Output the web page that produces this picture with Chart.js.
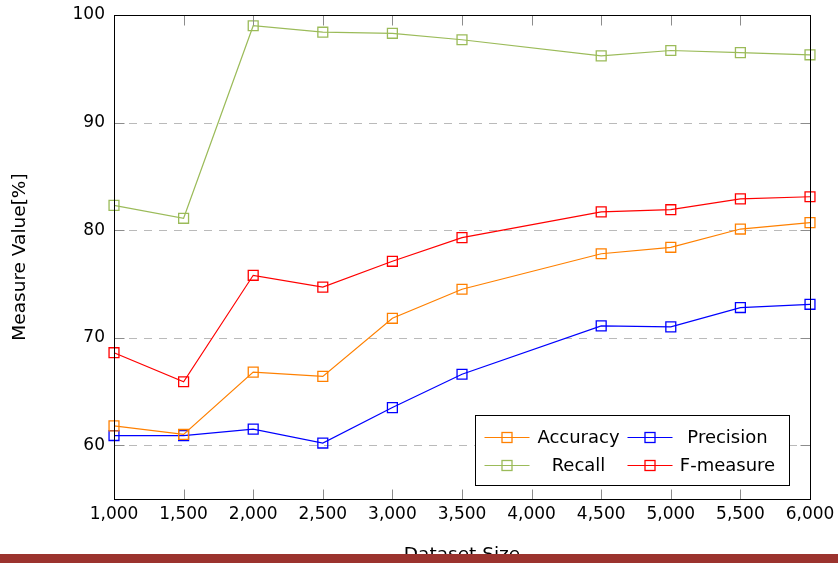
<!DOCTYPE html>
<html>
<head>
<meta charset="utf-8">
<script src="https://cdn.jsdelivr.net/npm/chart.js@4"></script>
<style>
  html, body { margin: 0; padding: 0; background: #fff; }
  #wrap { position: relative; width: 838px; height: 563px; overflow: hidden; }
  #bar { position: absolute; left: 0; right: 0; top: 554px; height: 9px; background: #9b332e; }
</style>
</head>
<body>
<div id="wrap">
  <canvas id="chart" width="838" height="566"></canvas>
  <div id="bar"></div>
</div>
<script>
/* Measures vs dataset size — pgfplots-like look
   - inward ticks, dashed y grid, boxed legend bottom-right
*/

const SIZES     = [1000, 1500, 2000, 2500, 3000, 3500, 4500, 5000, 5500, 6000];
const ACCURACY  = [61.8, 61.0, 66.8, 66.4, 71.8, 74.5, 77.8, 78.4, 80.1, 80.7];
const PRECISION = [60.9, 60.9, 61.5, 60.2, 63.5, 66.6, 71.1, 71.0, 72.8, 73.1];
const RECALL    = [82.3, 81.1, 99.0, 98.4, 98.3, 97.7, 96.2, 96.7, 96.5, 96.3];
const FMEASURE  = [68.6, 65.9, 75.8, 74.7, 77.1, 79.3, 81.7, 81.9, 82.9, 83.1];

const Y_TICKS = [60, 70, 80, 90, 100];

const FONT = "'DejaVu Sans', sans-serif";

function pts(ys) {
  return SIZES.map((x, i) => ({ x: x, y: ys[i] }));
}

function series(label, ys, color) {
  return {
    label: label,
    data: pts(ys),
    borderColor: color,
    borderWidth: 1.2,
    pointStyle: "rect",
    pointRadius: 7,
    pointHoverRadius: 7,
    pointBorderWidth: 1.3,
    pointBorderColor: color,
    pointBackgroundColor: "rgba(0,0,0,0)",
    tension: 0,
    clip: false
  };
}

// dashed grid under the lines
const gridPlugin = {
  id: "dashGrid",
  beforeDatasetsDraw(chart) {
    const { ctx, chartArea: a, scales } = chart;
    ctx.save();
    ctx.strokeStyle = "#bababa";
    ctx.lineWidth = 1;
    ctx.setLineDash([8, 7]);
    for (const v of Y_TICKS) {
      if (v === 100) continue;
      const y = Math.round(scales.y.getPixelForValue(v)) + 0.5;
      ctx.beginPath();
      ctx.moveTo(a.left, y);
      ctx.lineTo(a.right, y);
      ctx.stroke();
    }
    ctx.restore();
  }
};

// frame, inward ticks and the boxed legend
const framePlugin = {
  id: "frame",
  afterDraw(chart) {
    const { ctx, chartArea: a, scales } = chart;
    const L = a.left + 0.5, R = a.right + 0.5, T = a.top + 0.5, B = a.bottom + 0.5;
    const tl = 10;

    ctx.save();
    ctx.strokeStyle = "#8c8c8c";
    ctx.lineWidth = 1;
    ctx.beginPath();
    for (const t of scales.x.ticks) {
      const x = Math.round(scales.x.getPixelForValue(t.value)) + 0.5;
      ctx.moveTo(x, T); ctx.lineTo(x, T + tl);
      ctx.moveTo(x, B); ctx.lineTo(x, B - tl);
    }
    for (const v of Y_TICKS) {
      const y = Math.round(scales.y.getPixelForValue(v)) + 0.5;
      ctx.moveTo(L, y); ctx.lineTo(L + tl, y);
      ctx.moveTo(R, y); ctx.lineTo(R - tl, y);
    }
    ctx.stroke();

    ctx.strokeStyle = "#000";
    ctx.strokeRect(L, T, R - L, B - T);

    // legend
    const w = 314, h = 70;
    const x0 = Math.round(a.right - 335) + 0.5;
    const y0 = Math.round(a.bottom - 14 - h) + 0.5;
    ctx.fillStyle = "#fff";
    ctx.fillRect(x0, y0, w, h);
    ctx.strokeStyle = "#000";
    ctx.strokeRect(x0, y0, w, h);

    ctx.font = "18px " + FONT;
    ctx.textAlign = "center";
    ctx.textBaseline = "middle";
    chart.data.datasets.forEach((ds, i) => {
      const col = i % 2, row = Math.floor(i / 2);
      const cx = x0 + col * 143;
      const cy = Math.round(y0 + 21 + row * 28) + 0.5;
      ctx.strokeStyle = ds.borderColor;
      ctx.lineWidth = 1.2;
      ctx.beginPath();
      ctx.moveTo(cx + 9, cy);
      ctx.lineTo(cx + 54, cy);
      ctx.stroke();
      ctx.lineWidth = 1.3;
      ctx.strokeRect(cx + 26.5, cy - 5, 10, 10);
      ctx.fillStyle = "#000";
      ctx.fillText(ds.label, x0 + 103 + col * 149, cy + 1);
    });
    ctx.restore();
  }
};

new Chart(document.getElementById("chart"), {
  type: "line",
  data: {
    datasets: [
      series("Accuracy", ACCURACY, "#ff8000"),
      series("Precision", PRECISION, "#0000ff"),
      series("Recall", RECALL, "#9bbb59"),
      series("F-measure", FMEASURE, "#ff0000")
    ]
  },
  options: {
    responsive: false,
    animation: false,
    layout: { padding: { top: 15, right: 28, bottom: 0, left: 0 } },
    plugins: { legend: { display: false }, tooltip: { enabled: false } },
    scales: {
      x: {
        type: "linear",
        min: 1000,
        max: 6000,
        afterFit(s) { s.height = 67; s.paddingLeft = 0; s.paddingRight = 0; },
        grid: { display: false, drawTicks: false },
        border: { display: false },
        ticks: {
          stepSize: 500,
          padding: 5,
          color: "#000",
          font: { family: FONT, size: 17 },
          callback: v => v.toLocaleString("en-US")
        },
        title: {
          display: true,
          text: "Dataset Size",
          color: "#000",
          padding: 0,
          font: { family: FONT, size: 18.5 }
        }
      },
      y: {
        min: 55,
        max: 100,
        afterFit(s) { s.width = 114; s.paddingTop = 0; s.paddingBottom = 0; },
        afterBuildTicks(s) { s.ticks = Y_TICKS.map(v => ({ value: v })); },
        grid: { display: false, drawTicks: false },
        border: { display: false },
        ticks: {
          padding: 9,
          color: "#000",
          font: { family: FONT, size: 17 }
        },
        title: {
          display: true,
          text: "Measure Value[%]",
          color: "#000",
          padding: { top: 9, bottom: 0 },
          font: { family: FONT, size: 18.5 }
        }
      }
    }
  },
  plugins: [gridPlugin, framePlugin]
});
</script>
</body>
</html>
